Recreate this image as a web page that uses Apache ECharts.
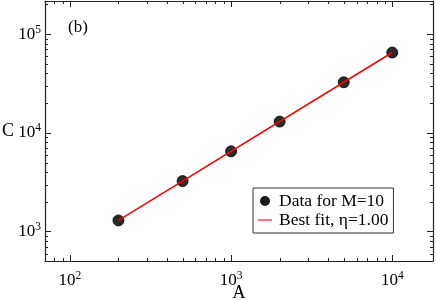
<!DOCTYPE html>
<html>
<head>
<meta charset="utf-8">
<style>html,body{margin:0;padding:0;background:#fff}#c{width:436px;height:300px}</style>
<script src="https://cdn.jsdelivr.net/npm/echarts@6/dist/echarts.min.js"></script>
</head>
<body>
<div id="c"></div>
<script>
// Data
const dataA = [200, 500, 1000, 2000, 5000, 10000];
const dataC = [1300, 3250, 6500, 13000, 32500, 65000];
const fitA = [200, 10000];
const fitC = [1300, 65000];
const xMinorTicks = [80, 90, 200, 300, 400, 500, 600, 700, 800, 900, 2000, 3000, 4000, 5000, 6000, 7000, 8000, 9000];
const yMinorTicks = [600, 700, 800, 900, 2000, 3000, 4000, 5000, 6000, 7000, 8000, 9000, 20000, 30000, 40000, 50000, 60000, 70000, 80000, 90000, 200000];
const seriesNames = ['Data for M=10', 'Best fit, \u03b7=1.00'];

const FONT = 'Liberation Serif';
const AX = '#222';

function supLabel(v) {
  const e = Math.round(Math.log10(v));
  return '10{s|' + e + '}';
}
const labelRich = {
  s: { fontSize: 11.5, fontFamily: FONT, color: '#000', verticalAlign: 'top', padding: [0, 0, 9, 0] }
};

function axisCommon(extra) {
  return Object.assign({
    type: 'log', logBase: 10,
    axisLine: { show: true, onZero: false, lineStyle: { color: AX, width: 1.2 } },
    axisTick: { show: true, inside: true, length: 6, lineStyle: { color: AX, width: 1 } },
    splitLine: { show: false },
    minorTick: { show: false }
  }, extra);
}

const chart = echarts.init(document.getElementById('c'), null, { renderer: 'canvas' });

function minorTickRenderer(dir) {
  return function (params, api) {
    const cs = params.coordSys;
    const p = api.coord([api.value(0), api.value(1)]);
    const L = 3;
    const st = { stroke: AX, lineWidth: 1 };
    if (dir === 'x') {
      const x = Math.round(p[0]) + 0.5;
      return { type: 'group', children: [
        { type: 'line', shape: { x1: x, y1: cs.y + cs.height, x2: x, y2: cs.y + cs.height - L }, style: st },
        { type: 'line', shape: { x1: x, y1: cs.y, x2: x, y2: cs.y + L }, style: st }
      ]};
    } else {
      const y = Math.round(p[1]) + 0.5;
      return { type: 'group', children: [
        { type: 'line', shape: { x1: cs.x, y1: y, x2: cs.x + L, y2: y }, style: st },
        { type: 'line', shape: { x1: cs.x + cs.width, y1: y, x2: cs.x + cs.width - L, y2: y }, style: st }
      ]};
    }
  };
}

const xMin = 70, xMax = 17900, yMin = 505, yMax = 216000;

chart.setOption({
  animation: false,
  backgroundColor: '#fff',
  grid: { left: 45, right: 3, top: 1, bottom: 39, containLabel: false, outerBoundsMode: 'none' },
  xAxis: [
    axisCommon({
      position: 'bottom', min: xMin, max: xMax,
      name: 'A', nameLocation: 'middle', nameGap: 23, nameMoveOverlap: false,
      nameTextStyle: { fontFamily: FONT, fontSize: 18, color: '#000', verticalAlign: 'top' },
      axisLabel: { show: true, showMinLabel: false, showMaxLabel: false, margin: 9,
        fontFamily: FONT, fontSize: 17, color: '#000', formatter: supLabel, rich: labelRich }
    }),
    axisCommon({
      position: 'top', min: xMin, max: xMax,
      axisLabel: { show: false }
    })
  ],
  yAxis: [
    axisCommon({
      position: 'left', min: yMin, max: yMax,
      name: 'C', nameLocation: 'middle', nameRotate: 0, nameGap: 31, nameMoveOverlap: false,
      nameTextStyle: { fontFamily: FONT, fontSize: 18, color: '#000' },
      axisLabel: { show: true, showMinLabel: false, showMaxLabel: false, margin: 4,
        fontFamily: FONT, fontSize: 17, color: '#000', formatter: supLabel, rich: labelRich }
    }),
    axisCommon({
      position: 'right', min: yMin, max: yMax,
      axisLabel: { show: false }
    })
  ],
  legend: {
    orient: 'vertical',
    left: 253, top: 188,
    width: 147,
    padding: [4, 5, 4, 5],
    itemGap: 1,
    itemWidth: 14, itemHeight: 10,
    borderColor: '#333', borderWidth: 1,
    backgroundColor: '#fff',
    textStyle: { fontFamily: FONT, fontSize: 17.5, color: '#000', lineHeight: 16, padding: [0, 0, 0, 2] },
    data: [
      { name: seriesNames[0], icon: 'circle', itemStyle: { color: '#1a1a1a', borderWidth: 0, opacity: 1 } },
      { name: seriesNames[1], icon: 'path://M0,0H14V1.6H0Z', itemStyle: { color: '#ff5050' } }
    ]
  },
  graphic: [
    { type: 'text', left: 68, top: 19, style: { text: '(b)', font: '17px "Liberation Serif"', fill: '#000' } }
  ],
  series: [
    {
      name: seriesNames[1], type: 'line',
      xAxisIndex: 0, yAxisIndex: 0,
      data: fitA.map((a, i) => [a, fitC[i]]),
      showSymbol: false, symbol: 'none',
      lineStyle: { color: '#ff0000', width: 1.6 },
      itemStyle: { color: '#ff3030' },
      z: 3
    },
    {
      name: seriesNames[0], type: 'scatter',
      xAxisIndex: 0, yAxisIndex: 0,
      data: dataA.map((a, i) => [a, dataC[i]]),
      symbol: 'circle', symbolSize: 11,
      itemStyle: { color: '#2a2a2a', borderColor: '#000', borderWidth: 0.8, opacity: 1 },
      z: 2
    },
    {
      type: 'custom', xAxisIndex: 0, yAxisIndex: 0, silent: true, clip: false,
      data: xMinorTicks.map(v => [v, 1000]),
      renderItem: minorTickRenderer('x'), z: 1
    },
    {
      type: 'custom', xAxisIndex: 0, yAxisIndex: 0, silent: true, clip: false,
      data: yMinorTicks.map(v => [1000, v]),
      renderItem: minorTickRenderer('y'), z: 1
    }
  ]
});
</script>
</body>
</html>
